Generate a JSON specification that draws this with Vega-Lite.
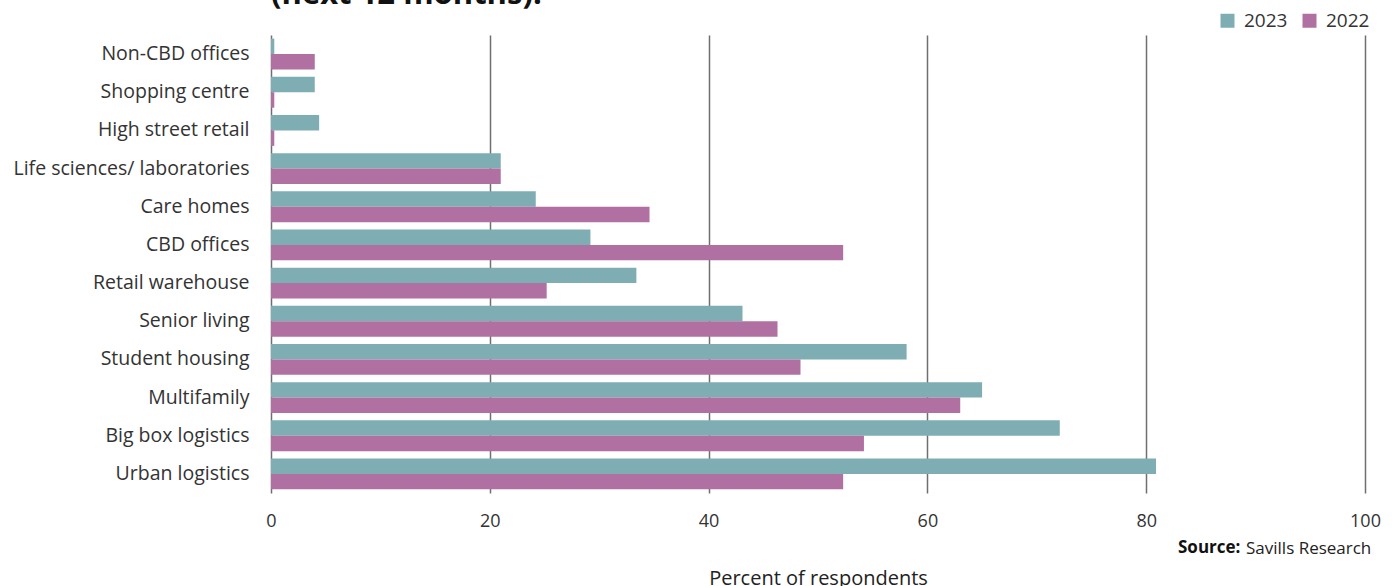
{
  "$schema": "https://vega.github.io/schema/vega-lite/v6.json",
  "width": 1094,
  "height": 458,
  "autosize": {"type": "none"},
  "padding": {"left": 271, "top": 35, "right": 30, "bottom": 93},
  "background": "white",
  "title": {"text": "(next 12 months).", "anchor": "start", "frame": "group", "fontSize": 31, "fontWeight": "bold", "font": "Open Sans", "color": "#111111", "baseline": "alphabetic", "offset": -24},
  "config": {"font": "Open Sans", "view": {"stroke": null}},
  "data": {"values": [
    {"category": "Non-CBD offices", "year": "2023", "value": 0.3},
    {"category": "Non-CBD offices", "year": "2022", "value": 4.0},
    {"category": "Shopping centre", "year": "2023", "value": 4.0},
    {"category": "Shopping centre", "year": "2022", "value": 0.3},
    {"category": "High street retail", "year": "2023", "value": 4.4},
    {"category": "High street retail", "year": "2022", "value": 0.3},
    {"category": "Life sciences/ laboratories", "year": "2023", "value": 21.0},
    {"category": "Life sciences/ laboratories", "year": "2022", "value": 21.0},
    {"category": "Care homes", "year": "2023", "value": 24.2},
    {"category": "Care homes", "year": "2022", "value": 34.6},
    {"category": "CBD offices", "year": "2023", "value": 29.2},
    {"category": "CBD offices", "year": "2022", "value": 52.3},
    {"category": "Retail warehouse", "year": "2023", "value": 33.4},
    {"category": "Retail warehouse", "year": "2022", "value": 25.2},
    {"category": "Senior living", "year": "2023", "value": 43.1},
    {"category": "Senior living", "year": "2022", "value": 46.3},
    {"category": "Student housing", "year": "2023", "value": 58.1},
    {"category": "Student housing", "year": "2022", "value": 48.4},
    {"category": "Multifamily", "year": "2023", "value": 65.0},
    {"category": "Multifamily", "year": "2022", "value": 63.0},
    {"category": "Big box logistics", "year": "2023", "value": 72.1},
    {"category": "Big box logistics", "year": "2022", "value": 54.2},
    {"category": "Urban logistics", "year": "2023", "value": 80.9},
    {"category": "Urban logistics", "year": "2022", "value": 52.3}
  ]},
  "encoding": {
    "x": {"field": "value", "type": "quantitative", "scale": {"domain": [0, 100]},
      "axis": {"values": [0, 20, 40, 60, 80, 100], "grid": true, "gridColor": "#6f6f6f", "gridWidth": 1.5, "domain": false, "ticks": false,
        "labelFontSize": 18, "labelColor": "#333333", "labelPadding": 19, "labelFlush": false,
        "title": "Percent of respondents", "titleFontSize": 20, "titleFontWeight": "normal", "titleColor": "#222222", "titlePadding": 38}},
    "y": {"field": "category", "type": "nominal",
      "sort": ["Non-CBD offices", "Shopping centre", "High street retail", "Life sciences/ laboratories", "Care homes", "CBD offices", "Retail warehouse", "Senior living", "Student housing", "Multifamily", "Big box logistics", "Urban logistics"],
      "scale": {"paddingInner": 0.19, "paddingOuter": 0.095},
      "axis": {"title": null, "ticks": false, "domain": false, "labelFontSize": 19.5, "labelColor": "#333333", "labelPadding": 22, "labelLimit": 0}}
  },
  "layer": [
    {
      "mark": {"type": "bar"},
      "encoding": {
        "yOffset": {"field": "year", "type": "nominal", "sort": ["2023", "2022"]},
        "color": {"field": "year", "type": "nominal",
          "scale": {"domain": ["2023", "2022"], "range": ["#7eaeb4", "#b070a2"]},
          "legend": {"orient": "none", "legendX": 947, "legendY": -24, "direction": "horizontal", "title": null, "symbolType": "square", "symbolSize": 196, "symbolStrokeWidth": 0, "labelFontSize": 19, "labelColor": "#333333", "columnPadding": 12, "labelOffset": 7, "padding": 0}}
      }
    },
    {
      "mark": {"type": "point", "opacity": 0},
      "encoding": {
        "shape": {"datum": "Savills Research",
          "legend": {"orient": "none", "legendX": 907, "legendY": 505, "direction": "horizontal", "title": "Source:", "titleOrient": "left", "titleFontWeight": "bold", "titleFontSize": 17, "titleColor": "#111111", "titlePadding": 0, "symbolOpacity": 0, "symbolSize": 0, "symbolStrokeWidth": 0, "labelOffset": -12, "labelFontSize": 17, "labelColor": "#222222", "padding": 0}}
      }
    }
  ]
}
